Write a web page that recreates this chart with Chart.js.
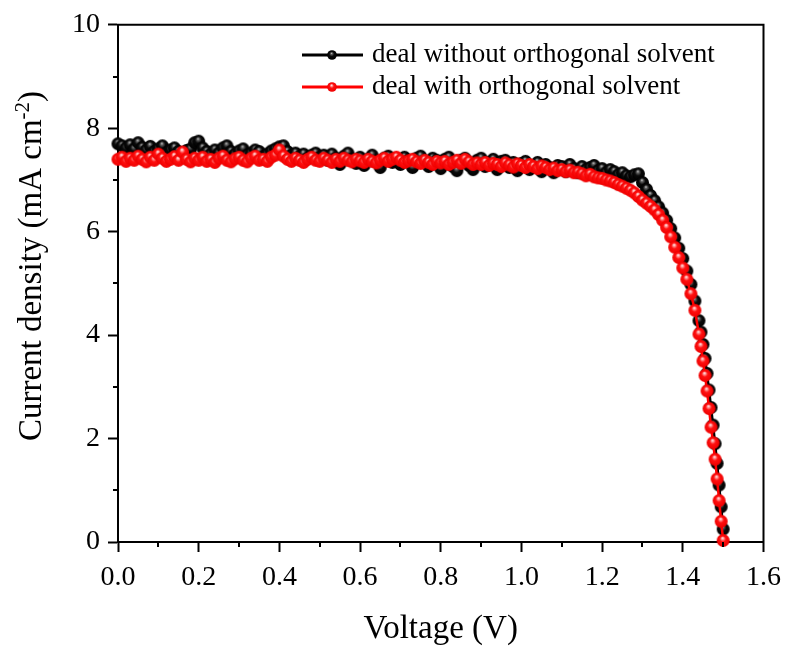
<!DOCTYPE html>
<html>
<head>
<meta charset="utf-8">
<script src="https://cdn.jsdelivr.net/npm/chart.js@4.4.0/dist/chart.umd.min.js"></script>
<style>
html, body { margin: 0; padding: 0; background: #fff; }
#wrap { width: 790px; height: 652px; }
</style>
</head>
<body>
<div id="wrap"><canvas id="jvChart" width="790" height="652"></canvas></div>
<script>
// J-V curves (finer voltage steps close to Voc)
const voltage = [
    0.00, 0.01, 0.02, 0.03, 0.04, 0.05, 0.06, 0.07, 0.08, 0.09,
    0.10, 0.11, 0.12, 0.13, 0.14, 0.15, 0.16, 0.17, 0.18, 0.19,
    0.20, 0.21, 0.22, 0.23, 0.24, 0.25, 0.26, 0.27, 0.28, 0.29,
    0.30, 0.31, 0.32, 0.33, 0.34, 0.35, 0.36, 0.37, 0.38, 0.39,
    0.40, 0.41, 0.42, 0.43, 0.44, 0.45, 0.46, 0.47, 0.48, 0.49,
    0.50, 0.51, 0.52, 0.53, 0.54, 0.55, 0.56, 0.57, 0.58, 0.59,
    0.60, 0.61, 0.62, 0.63, 0.64, 0.65, 0.66, 0.67, 0.68, 0.69,
    0.70, 0.71, 0.72, 0.73, 0.74, 0.75, 0.76, 0.77, 0.78, 0.79,
    0.80, 0.81, 0.82, 0.83, 0.84, 0.85, 0.86, 0.87, 0.88, 0.89,
    0.90, 0.91, 0.92, 0.93, 0.94, 0.95, 0.96, 0.97, 0.98, 0.99,
    1.00, 1.01, 1.02, 1.03, 1.04, 1.05, 1.06, 1.07, 1.08, 1.09,
    1.10, 1.11, 1.12, 1.13, 1.14, 1.15, 1.16, 1.17, 1.18, 1.19,
    1.20, 1.21, 1.22, 1.23, 1.24, 1.25, 1.26, 1.27, 1.28, 1.29,
    1.30, 1.31, 1.32, 1.33, 1.34, 1.35, 1.36, 1.37, 1.38, 1.39,
    1.40, 1.41, 1.42, 1.43, 1.44,
    1.445, 1.450, 1.455, 1.460, 1.465, 1.470, 1.475, 1.480, 1.485, 1.490,
    1.495, 1.500
];

const jWithout = [
    7.70, 7.66, 7.62, 7.68, 7.60, 7.72, 7.63, 7.58, 7.65, 7.55,
    7.60, 7.66, 7.52, 7.58, 7.62, 7.55, 7.50, 7.57, 7.60, 7.72,
    7.75, 7.62, 7.55, 7.50, 7.58, 7.52, 7.62, 7.66, 7.55, 7.50,
    7.56, 7.60, 7.48, 7.52, 7.58, 7.55, 7.45, 7.50, 7.56, 7.60,
    7.64, 7.66, 7.55, 7.48, 7.52, 7.45, 7.50, 7.42, 7.48, 7.52,
    7.44, 7.48, 7.38, 7.50, 7.42, 7.30, 7.46, 7.52, 7.40, 7.32,
    7.44, 7.28, 7.40, 7.48, 7.36, 7.24, 7.42, 7.46, 7.34, 7.40,
    7.30, 7.44, 7.38, 7.24, 7.42, 7.46, 7.36, 7.26, 7.42, 7.38,
    7.22, 7.40, 7.44, 7.26, 7.18, 7.38, 7.42, 7.28, 7.20, 7.38,
    7.42, 7.26, 7.34, 7.40, 7.20, 7.36, 7.38, 7.24, 7.34, 7.18,
    7.32, 7.36, 7.20, 7.28, 7.34, 7.16, 7.30, 7.24, 7.14, 7.28,
    7.26, 7.16, 7.30, 7.22, 7.14, 7.26, 7.20, 7.24, 7.28, 7.18,
    7.22, 7.14, 7.20, 7.16, 7.10, 7.14, 7.08, 7.06, 7.10, 7.12,
    6.95, 6.82, 6.70, 6.60, 6.48, 6.36, 6.22, 6.06, 5.88, 5.68,
    5.48, 5.24, 4.98, 4.66, 4.28,
    4.06, 3.82, 3.55, 3.26, 2.94, 2.60, 2.26, 1.90, 1.52, 1.10,
    0.68, 0.25
];

const jWith = [
    7.40, 7.44, 7.36, 7.42, 7.38, 7.46, 7.40, 7.35, 7.44, 7.38,
    7.50, 7.42, 7.36, 7.40, 7.45, 7.38, 7.54, 7.40, 7.35, 7.42,
    7.38, 7.44, 7.36, 7.40, 7.34, 7.42, 7.46, 7.38, 7.35, 7.41,
    7.44, 7.38, 7.35, 7.42, 7.46, 7.38, 7.40, 7.36, 7.44, 7.48,
    7.58, 7.46, 7.40, 7.36, 7.42, 7.38, 7.34, 7.40, 7.44, 7.38,
    7.36, 7.42, 7.38, 7.34, 7.40, 7.36, 7.42, 7.38, 7.35, 7.40,
    7.37, 7.34, 7.40, 7.36, 7.33, 7.38, 7.42, 7.36, 7.40, 7.44,
    7.38, 7.34, 7.37, 7.40, 7.35, 7.32, 7.38, 7.34, 7.30, 7.36,
    7.33, 7.36, 7.30, 7.34, 7.38, 7.32, 7.40, 7.35, 7.30, 7.33,
    7.30, 7.34, 7.28, 7.32, 7.30, 7.26, 7.33, 7.29, 7.25, 7.31,
    7.28, 7.24, 7.30, 7.26, 7.22, 7.27, 7.24, 7.20, 7.23, 7.18,
    7.20, 7.16, 7.19, 7.14, 7.15, 7.12, 7.08, 7.11, 7.06, 7.04,
    7.03, 7.00, 6.98, 6.95, 6.91, 6.88, 6.84, 6.80, 6.75, 6.68,
    6.61, 6.55, 6.49, 6.42, 6.33, 6.22, 6.08, 5.90, 5.70, 5.50,
    5.30, 5.08, 4.80, 4.48, 4.02,
    3.78, 3.50, 3.22, 2.92, 2.58, 2.22, 1.92, 1.60, 1.22, 0.80,
    0.40, 0.03
];

const seriesNames = ['deal without orthogonal solvent', 'deal with orthogonal solvent'];
const xTickLabels = ['0.0', '0.2', '0.4', '0.6', '0.8', '1.0', '1.2', '1.4', '1.6'];
const yTickLabels = ['0', '2', '4', '6', '8', '10'];
const xTitle = 'Voltage (V)';
const yTitleMain = 'Current density (mA cm';
const yTitleSup = '-2';

const FONT = '"Liberation Serif", "Times New Roman", serif';

// shaded ball used as marker
function makeBall(r, stops) {
    const c = document.createElement('canvas');
    const s = Math.ceil(r * 2) + 2;
    c.width = s;
    c.height = s;
    const g = c.getContext('2d');
    const m = s / 2;
    const grad = g.createRadialGradient(m - r * 0.1, m - r * 0.4, 0, m, m, r);
    stops.forEach(function(st) { grad.addColorStop(st[0], st[1]); });
    g.fillStyle = grad;
    g.beginPath();
    g.arc(m, m, r, 0, Math.PI * 2);
    g.fill();
    return c;
}

const blackStops = [[0, '#d8d8d8'], [0.2, '#606060'], [0.5, '#0a0a0a'], [1, '#000']];
const redStops = [[0, '#ffffff'], [0.18, '#ffa0a0'], [0.45, '#ff1010'], [1, '#ee0000']];
const blackBall = makeBall(6.5, blackStops);
const redBall = makeBall(6.5, redStops);
const blackBallSmall = makeBall(4.8, blackStops);
const redBallSmall = makeBall(4.8, redStops);

function toPoints(ys) {
    return voltage.map(function(v, i) { return { x: v, y: ys[i] }; });
}

// minor ticks, box frame, rotated y title and legend
const decorPlugin = {
    id: 'decor',
    afterDraw: function(chart) {
        const ctx = chart.ctx;
        const a = chart.chartArea;
        const xs = chart.scales.x;
        const ys = chart.scales.y;
        ctx.save();
        ctx.strokeStyle = '#000';
        ctx.lineWidth = 2;
        ctx.beginPath();
        xs.ticks.forEach(function(t, i) {
            if (i % 2 === 1) {
                const px = Math.round(xs.getPixelForValue(t.value));
                ctx.moveTo(px, a.bottom);
                ctx.lineTo(px, a.bottom + 5);
            }
        });
        ys.ticks.forEach(function(t, i) {
            if (i % 2 === 1) {
                const py = Math.round(ys.getPixelForValue(t.value));
                ctx.moveTo(a.left, py);
                ctx.lineTo(a.left - 5, py);
            }
        });
        // top and right of the frame
        ctx.moveTo(a.left - 1, a.top);
        ctx.lineTo(a.right, a.top);
        ctx.lineTo(a.right, a.bottom + 1);
        ctx.stroke();

        // y axis title with superscript
        ctx.fillStyle = '#000';
        ctx.translate(32, 266);
        ctx.rotate(-Math.PI / 2);
        ctx.textBaseline = 'middle';
        ctx.textAlign = 'left';
        const big = '33px ' + FONT;
        const small = '21px ' + FONT;
        ctx.font = big;
        const w1 = ctx.measureText(yTitleMain).width;
        const w3 = ctx.measureText(')').width;
        ctx.font = small;
        const w2 = ctx.measureText(yTitleSup).width;
        let x = -(w1 + w2 + w3) / 2;
        ctx.font = big;
        ctx.fillText(yTitleMain, x, 0);
        x += w1;
        ctx.font = small;
        ctx.fillText(yTitleSup, x, -9);
        x += w2;
        ctx.font = big;
        ctx.fillText(')', x, 0);
        ctx.restore();

        // legend
        ctx.save();
        const rows = [
            { y: 55, color: '#000', ball: blackBallSmall, text: seriesNames[0] },
            { y: 87, color: '#ff0000', ball: redBallSmall, text: seriesNames[1] }
        ];
        rows.forEach(function(r) {
            ctx.strokeStyle = r.color;
            ctx.lineWidth = 3;
            ctx.beginPath();
            ctx.moveTo(302, r.y);
            ctx.lineTo(363, r.y);
            ctx.stroke();
            ctx.drawImage(r.ball, 332 - r.ball.width / 2, r.y - r.ball.height / 2);
            ctx.fillStyle = '#000';
            ctx.font = '27px ' + FONT;
            ctx.textBaseline = 'middle';
            ctx.textAlign = 'left';
            ctx.fillText(r.text, 372, r.y);
        });
        ctx.restore();
    }
};

document.addEventListener('DOMContentLoaded', function() {
    const jvCtx = document.getElementById('jvChart').getContext('2d');
    const jvChart = new Chart(jvCtx, {
        type: 'line',
        data: {
            datasets: [{
                label: seriesNames[0],
                data: toPoints(jWithout),
                borderColor: '#000',
                borderWidth: 2.5,
                pointStyle: blackBall,
                pointRadius: 6.5,
                tension: 0,
                clip: false,
                order: 2
            }, {
                label: seriesNames[1],
                data: toPoints(jWith),
                borderColor: '#ff0000',
                borderWidth: 2.5,
                pointStyle: redBall,
                pointRadius: 6.5,
                tension: 0,
                clip: false,
                order: 1
            }]
        },
        options: {
            responsive: false,
            animation: false,
            layout: {
                padding: { top: 20, right: 26, left: 0, bottom: 0 }
            },
            plugins: {
                legend: { display: false },
                tooltip: { enabled: false }
            },
            scales: {
                x: {
                    type: 'linear',
                    min: 0,
                    max: 1.6,
                    border: { color: '#000', width: 2 },
                    grid: {
                        drawOnChartArea: false,
                        tickLength: 10,
                        tickWidth: 2,
                        tickColor: function(c) { return c.index % 2 === 0 ? '#000' : 'rgba(0,0,0,0)'; }
                    },
                    ticks: {
                        stepSize: 0.1,
                        autoSkip: false,
                        maxRotation: 0,
                        padding: 9,
                        color: '#000',
                        font: { family: FONT, size: 28 },
                        callback: function(value, index) {
                            return index % 2 === 0 ? xTickLabels[index / 2] : '';
                        }
                    },
                    title: {
                        display: true,
                        text: xTitle,
                        color: '#000',
                        font: { family: FONT, size: 33 },
                        padding: { top: 0, bottom: 3 }
                    },
                    afterFit: function(scale) { scale.height = 110; }
                },
                y: {
                    type: 'linear',
                    min: 0,
                    max: 10,
                    border: { color: '#000', width: 2 },
                    grid: {
                        drawOnChartArea: false,
                        tickLength: 10,
                        tickWidth: 2,
                        tickColor: function(c) { return c.index % 2 === 0 ? '#000' : 'rgba(0,0,0,0)'; }
                    },
                    ticks: {
                        stepSize: 1,
                        autoSkip: false,
                        padding: 8,
                        color: '#000',
                        font: { family: FONT, size: 28 },
                        callback: function(value, index) {
                            return index % 2 === 0 ? yTickLabels[index / 2] : '';
                        }
                    },
                    afterFit: function(scale) { scale.width = 118; }
                }
            }
        },
        plugins: [decorPlugin]
    });
});
</script>
</body>
</html>
